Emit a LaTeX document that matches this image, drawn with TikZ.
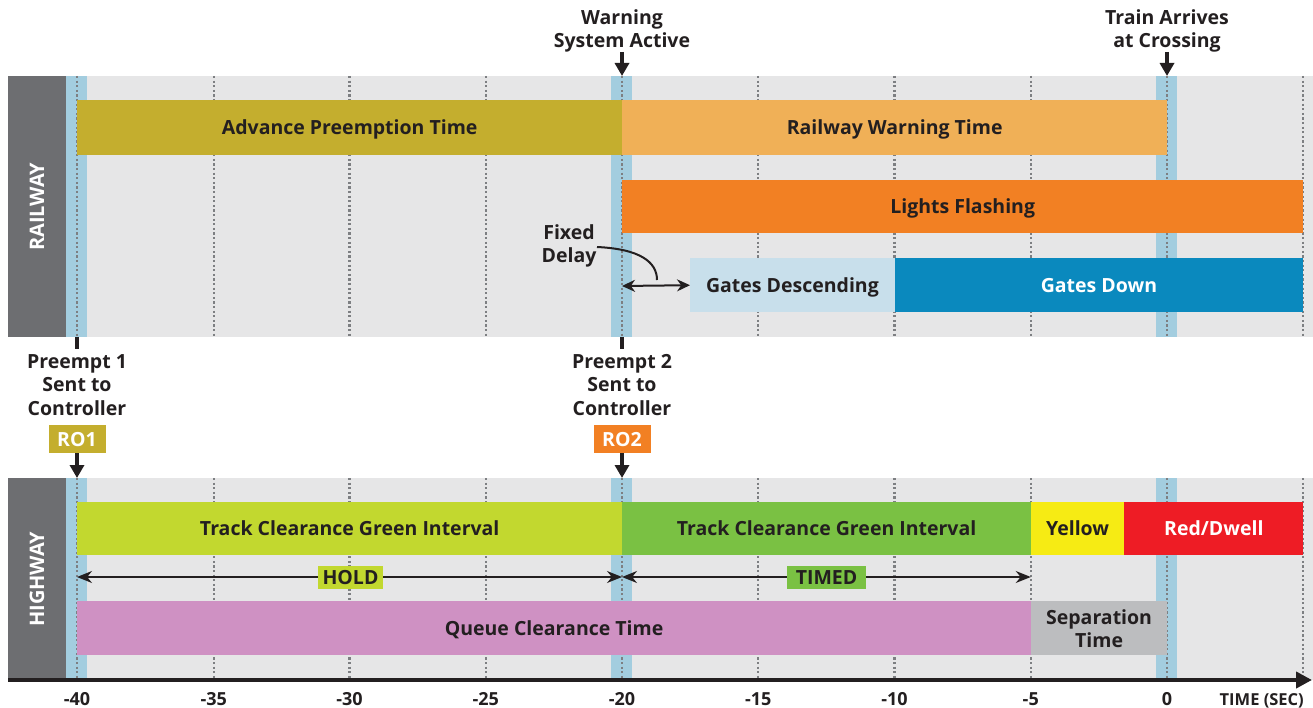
\documentclass[tikz,border=0pt]{standalone}
\usepackage{fontspec}
\setmainfont{Open Sans}
\usetikzlibrary{arrows.meta}
\definecolor{txt}{HTML}{231F20}
\definecolor{panelbg}{HTML}{E6E6E7}
\definecolor{labbox}{HTML}{6D6E71}
\definecolor{stripe}{HTML}{A3CDDF}
\definecolor{dotc}{HTML}{7D7F82}
\definecolor{cApt}{HTML}{C4AE2E}
\definecolor{cRwt}{HTML}{F0B057}
\definecolor{cLf}{HTML}{F28023}
\definecolor{cGdes}{HTML}{C8DFEB}
\definecolor{cGdn}{HTML}{0A89BE}
\definecolor{cTcA}{HTML}{C2D82F}
\definecolor{cTcB}{HTML}{7AC143}
\definecolor{cYel}{HTML}{F6EB14}
\definecolor{cRed}{HTML}{EE1C25}
\definecolor{cQue}{HTML}{CF91C3}
\definecolor{cSep}{HTML}{BCBDBF}
\begin{document}
\begin{tikzpicture}[x=1pt,y=-1pt,
  barbase/.style={draw=none, anchor=north west, inner sep=0pt, text=txt,
    font=\bfseries\fontsize{19.5}{22}\selectfont},
  bar/.style={barbase, text height=14pt, text depth=0pt},
  lbl/.style={inner sep=0pt, text=txt, align=center,
    font=\bfseries\fontsize{19.5}{23.5}\selectfont},
  robox/.style={inner sep=0pt, minimum width=57pt, minimum height=28pt, text=white,
    text height=14pt, text depth=0pt,
    font=\bfseries\fontsize{19.5}{22}\selectfont},
  tagbox/.style={inner sep=0pt, minimum height=23pt, text=txt,
    text height=14pt, text depth=0pt,
    font=\bfseries\fontsize{19.5}{22}\selectfont},
  sidebox/.style={draw=none, fill=labbox, anchor=north west, inner sep=0pt, minimum width=58pt},
  sidetext/.style={rotate=90, text=white, inner sep=0pt, text height=14pt, text depth=0pt,
    font=\bfseries\fontsize{20}{22}\selectfont},
  ticklbl/.style={inner sep=0pt, text=txt, text height=13pt, text depth=0pt,
    font=\bfseries\fontsize{18}{20}\selectfont},
  dotline/.style={dotc, line width=2.2pt, dash pattern=on 2.2pt off 2.4pt},
  bigarrow/.style={txt, line width=4pt, -{Triangle[width=14pt,length=13pt]}},
  dblarrow/.style={txt, line width=2pt, {Stealth[width=12pt,length=13pt]}-{Stealth[width=12pt,length=13pt]}},
  spanarrow/.style={txt, line width=1.8pt, {Stealth[width=12pt,length=15pt]}-{Stealth[width=12pt,length=15pt]}},
  axisline/.style={txt, line width=4pt, -{Triangle[width=16pt,length=16pt]}}
]
\useasboundingbox (0,0) rectangle (1313,708);

% panels
\fill[panelbg] (66,76) rectangle (1313,337);
\fill[panelbg] (66,478) rectangle (1313,680);
\node[sidebox, minimum height=261pt] (rbox) at (8,76) {};
\node[sidebox, minimum height=202pt] (hbox) at (8,478) {};
\node[sidetext] (rtxt) at (rbox.center) {RAILWAY};
\node[sidetext] (htxt) at (hbox.center) {HIGHWAY};

% blue stripes
\foreach \x in {77,622,1167}{
  \fill[stripe] ({\x-11},76) rectangle ({\x+10},337);
  \fill[stripe] ({\x-11},478) rectangle ({\x+10},680);
}
% dotted time lines
\foreach \x in {77,213.75,349.5,485.75,622,758.25,894.5,1030.75,1167,1303}{
  \draw[dotline] (\x,76) -- (\x,337);
  \draw[dotline] (\x,478) -- (\x,680);
}

% railway bars
\node[bar, fill=cApt, minimum width=545pt, minimum height=55pt] (apt) at (77,100) {Advance Preemption Time};
\node[bar, fill=cRwt, minimum width=545pt, minimum height=55pt] (rwt) at (622,100) {Railway Warning Time};
\node[bar, fill=cLf, minimum width=681pt, minimum height=53pt] (lf) at (622,180) {Lights Flashing};
\node[bar, fill=cGdes, minimum width=204.5pt, minimum height=54pt] (gdes) at (690,258) {Gates Descending};
\node[bar, fill=cGdn, text=white, minimum width=408.5pt, minimum height=54pt] (gdn) at (894.5,258) {Gates Down};

% fixed delay
\node[lbl] (fd) at (569,246) {Fixed\\Delay};
\coordinate (fdA) at (597,247);
\coordinate (fdB) at (657,280);
\draw[txt, line width=2pt] (fdA) .. controls (640,249) and (657,262) .. (fdB);
\coordinate (fdL) at (622,286);
\draw[dblarrow] (fdL) -- (gdes.west);

% top labels
\node[lbl] (wsa) at (622,31) {Warning\\System Active};
\coordinate (wsaT) at (622,76);
\draw[bigarrow] (622,52) -- (wsaT);
\node[lbl] (tac) at (1167,31) {Train Arrives\\at Crossing};
\coordinate (tacT) at (1167,76);
\draw[bigarrow] (1167,52) -- (tacT);

% preempt markers
\fill[txt] (75,337) rectangle (79,349);
\fill[txt] (620,337) rectangle (624,349);
\node[lbl] (p1) at (77,385) {Preempt 1\\Sent to\\Controller};
\node[lbl] (p2) at (622,385) {Preempt 2\\Sent to\\Controller};
\node[robox, fill=cApt] (ro1) at (77,439) {RO1};
\node[robox, fill=cLf] (ro2) at (622,439) {RO2};
\coordinate (h40) at (77,478);
\coordinate (h20) at (622,478);
\draw[bigarrow] (ro1.south) -- (h40);
\draw[bigarrow] (ro2.south) -- (h20);

% highway bars
\node[bar, fill=cTcA, minimum width=545pt, minimum height=53pt] (tc1) at (77,502) {Track Clearance Green Interval};
\node[bar, fill=cTcB, minimum width=408.75pt, minimum height=53pt] (tc2) at (622,502) {Track Clearance Green Interval};
\node[bar, fill=cYel, minimum width=93.25pt, minimum height=53pt] (yel) at (1030.75,502) {Yellow};
\node[bar, fill=cRed, text=white, minimum width=179.25pt, minimum height=53pt] (red) at (1124,502) {Red/Dwell};
\node[bar, fill=cQue, minimum width=953.75pt, minimum height=54pt] (que) at (77,601) {Queue Clearance Time};
\node[barbase, fill=cSep, align=center, minimum width=136.25pt, minimum height=54pt,
  font=\bfseries\fontsize{19.5}{23}\selectfont] (sep) at (1030.75,601) {Separation\\Time};

% hold / timed
\coordinate (hA) at (77,577);
\coordinate (hB) at (622,577);
\coordinate (hC) at (1030.75,577);
\draw[spanarrow] (hA) -- (hB);
\draw[spanarrow] (hB) -- (hC);
\node[tagbox, fill=cTcA, minimum width=65pt] (hold) at (350.5,577) {HOLD};
\node[tagbox, fill=cTcB, minimum width=79pt] (timed) at (826.5,577) {TIMED};

% axis
\coordinate (axL) at (8,680);
\coordinate (axR) at (1312,680);
\draw[axisline] (axL) -- (axR);
\foreach \x/\t in {77/-40,213.75/-35,349.5/-30,485.75/-25,622/-20,758.25/-15,894.5/-10,1030.75/-5,1167/0}{
  \node[ticklbl] (t\t) at (\x,699) {\t};
}
\node[inner sep=0pt, text=txt, anchor=east, text height=12pt, text depth=0pt,
  font=\bfseries\fontsize{16.5}{18}\selectfont] (tsec) at (1304,699) {TIME (SEC)};
\end{tikzpicture}
\end{document}
